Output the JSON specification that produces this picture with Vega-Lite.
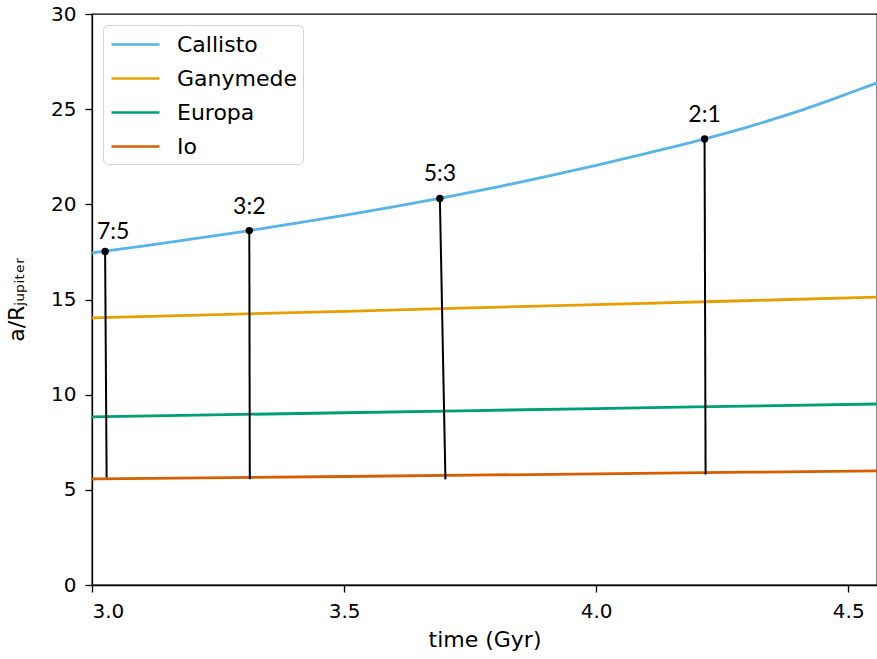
{
  "$schema": "https://vega.github.io/schema/vega-lite/v6.json",
  "width": 785,
  "height": 571,
  "autosize": {"type": "none"},
  "padding": {"left": 92, "top": 14, "right": 0, "bottom": 74},
  "background": "white",
  "config": {
    "view": {"stroke": "black", "strokeWidth": 1.3},
    "font": "DejaVu Sans",
    "axis": {
      "domainColor": "black", "domainWidth": 1.3, "tickColor": "black", "tickWidth": 1.3, "tickSize": 7,
      "labelColor": "black", "labelFont": "DejaVu Sans", "labelFontSize": 20, "grid": false,
      "titleFont": "DejaVu Sans", "titleFontSize": 22, "titleFontWeight": "normal", "titleColor": "black"
    }
  },
  "datasets": {
    "moons": [
      {"t": 3.0, "a": 17.45, "moon": "Callisto"},
      {"t": 3.1, "a": 17.80, "moon": "Callisto"},
      {"t": 3.2, "a": 18.18, "moon": "Callisto"},
      {"t": 3.3, "a": 18.57, "moon": "Callisto"},
      {"t": 3.4, "a": 18.99, "moon": "Callisto"},
      {"t": 3.5, "a": 19.42, "moon": "Callisto"},
      {"t": 3.6, "a": 19.88, "moon": "Callisto"},
      {"t": 3.7, "a": 20.37, "moon": "Callisto"},
      {"t": 3.8, "a": 20.89, "moon": "Callisto"},
      {"t": 3.9, "a": 21.45, "moon": "Callisto"},
      {"t": 4.0, "a": 22.05, "moon": "Callisto"},
      {"t": 4.1, "a": 22.68, "moon": "Callisto"},
      {"t": 4.2, "a": 23.33, "moon": "Callisto"},
      {"t": 4.3, "a": 24.06, "moon": "Callisto"},
      {"t": 4.4, "a": 24.88, "moon": "Callisto"},
      {"t": 4.5, "a": 25.82, "moon": "Callisto"},
      {"t": 4.557, "a": 26.38, "moon": "Callisto"},
      {"t": 3.0, "a": 14.03, "moon": "Ganymede"},
      {"t": 3.5, "a": 14.38, "moon": "Ganymede"},
      {"t": 4.0, "a": 14.73, "moon": "Ganymede"},
      {"t": 4.557, "a": 15.12, "moon": "Ganymede"},
      {"t": 3.0, "a": 8.83, "moon": "Europa"},
      {"t": 3.5, "a": 9.05, "moon": "Europa"},
      {"t": 4.0, "a": 9.27, "moon": "Europa"},
      {"t": 4.557, "a": 9.51, "moon": "Europa"},
      {"t": 3.0, "a": 5.57, "moon": "Io"},
      {"t": 3.5, "a": 5.70, "moon": "Io"},
      {"t": 4.0, "a": 5.84, "moon": "Io"},
      {"t": 4.557, "a": 6.00, "moon": "Io"}
    ],
    "res": [
      {"label": "7:5", "t_top": 3.026, "a_top": 17.52, "t_bot": 3.029, "a_bot": 5.65},
      {"label": "3:2", "t_top": 3.312, "a_top": 18.62, "t_bot": 3.313, "a_bot": 5.55},
      {"label": "5:3", "t_top": 3.690, "a_top": 20.31, "t_bot": 3.701, "a_bot": 5.55},
      {"label": "2:1", "t_top": 4.215, "a_top": 23.43, "t_bot": 4.217, "a_bot": 5.80}
    ]
  },
  "layer": [
    {
      "data": {"name": "moons"},
      "mark": {"type": "line", "strokeWidth": 2.8, "interpolate": "monotone", "clip": true},
      "encoding": {
        "x": {"field": "t", "type": "quantitative", "scale": {"domain": [3.0, 4.557], "nice": false, "zero": false},
              "axis": {"values": [3.0, 3.5, 4.0, 4.5], "format": ".1f", "labelPadding": 9, "titlePadding": 8}, "title": "time (Gyr)"},
        "y": {"field": "a", "type": "quantitative", "scale": {"domain": [0, 30], "nice": false},
              "axis": {"values": [0, 5, 10, 15, 20, 25, 30], "labelPadding": 9, "titlePadding": 22}, "title": "a/Rⱼᵤₚᵢₜₑᵣ"},
        "color": {
          "field": "moon", "type": "nominal",
          "scale": {"domain": ["Callisto", "Ganymede", "Europa", "Io"], "range": ["#56B4E9", "#E69F00", "#009E73", "#D55E00"]},
          "legend": {
            "title": null, "orient": "top-left", "offset": 11, "padding": 6,
            "strokeColor": "#d0d0d0", "fillColor": "white", "cornerRadius": 5,
            "symbolType": "M-2,0H2", "symbolSize": 576, "symbolStrokeWidth": 2.6, "symbolOffset": 13,
            "labelFont": "DejaVu Sans", "labelFontSize": 22, "labelColor": "black", "labelOffset": 28,
            "rowPadding": 9
          }
        }
      }
    },
    {
      "data": {"name": "res"},
      "mark": {"type": "rule", "color": "black", "strokeWidth": 2},
      "encoding": {
        "x": {"field": "t_top", "type": "quantitative"},
        "y": {"field": "a_top", "type": "quantitative"},
        "x2": {"field": "t_bot"},
        "y2": {"field": "a_bot"}
      }
    },
    {
      "data": {"name": "res"},
      "mark": {"type": "point", "filled": true, "color": "black", "size": 55, "opacity": 1},
      "encoding": {
        "x": {"field": "t_top", "type": "quantitative"},
        "y": {"field": "a_top", "type": "quantitative"}
      }
    },
    {
      "data": {"name": "res"},
      "transform": [{"filter": "datum.label != '7:5'"}],
      "mark": {"type": "text", "font": "Lato", "fontSize": 23, "color": "black", "baseline": "bottom", "dy": -12},
      "encoding": {
        "x": {"field": "t_top", "type": "quantitative"},
        "y": {"field": "a_top", "type": "quantitative"},
        "text": {"field": "label"}
      }
    },
    {
      "data": {"name": "res"},
      "transform": [{"filter": "datum.label == '7:5'"}],
      "mark": {"type": "text", "font": "Lato", "fontSize": 23, "color": "black", "baseline": "bottom", "dy": -8, "dx": 8},
      "encoding": {
        "x": {"field": "t_top", "type": "quantitative"},
        "y": {"field": "a_top", "type": "quantitative"},
        "text": {"field": "label"}
      }
    }
  ]
}
